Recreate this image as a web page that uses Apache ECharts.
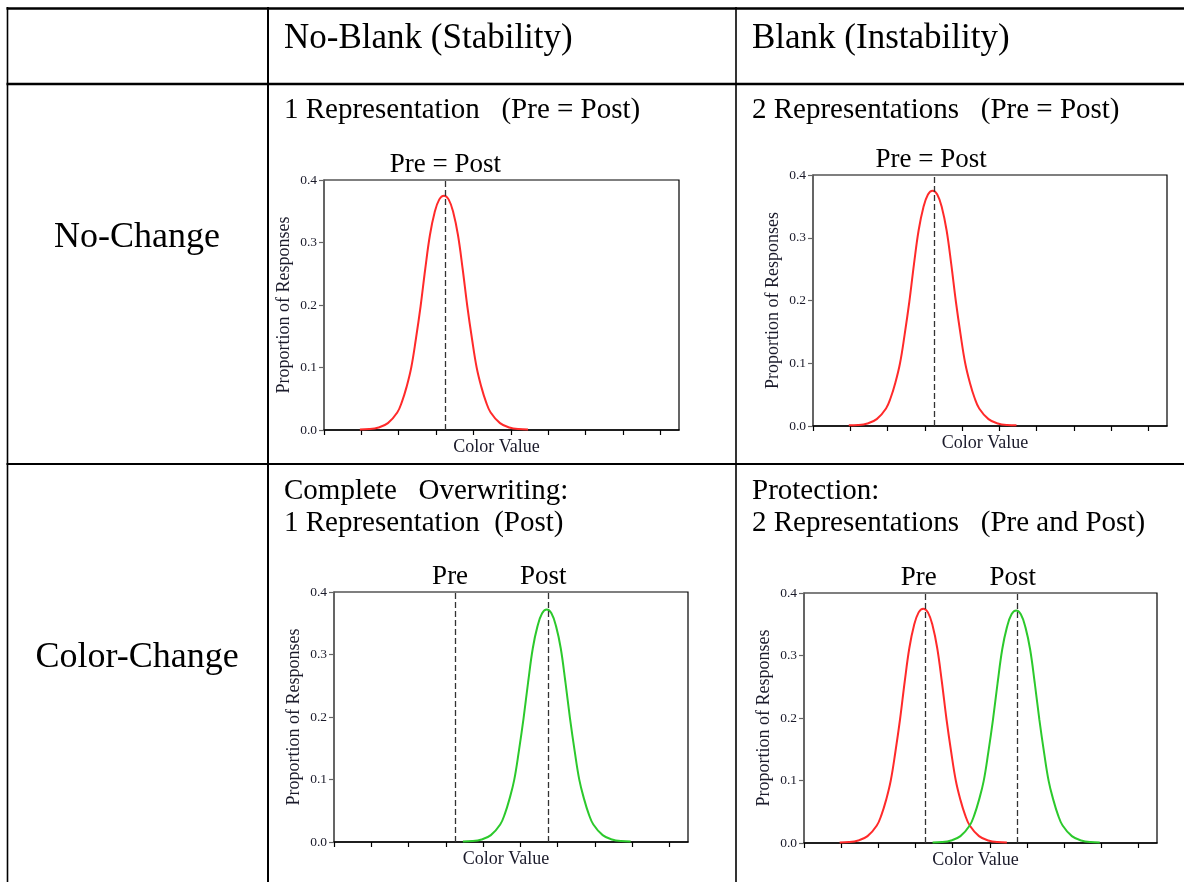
<!DOCTYPE html>
<html>
<head>
<meta charset="utf-8">
<script src="https://cdn.jsdelivr.net/npm/echarts@6/dist/echarts.min.js"></script>
<style>
  html, body { margin: 0; padding: 0; background: #fff; }
  #chart { width: 1184px; height: 882px; }
</style>
</head>
<body>
<div id="chart"></div>
<script>
// ---- data ----
const xTickValues = [0, 1, 2, 3, 4, 5, 6, 7, 8, 9];
const yTickLabels = ['0.0', '0.1', '0.2', '0.3', '0.4'];

const redColorValue = [0.96, 1.21, 1.46, 1.71, 1.96, 2.085, 2.21, 2.335, 2.46, 2.585, 2.71, 2.835, 2.96, 3.085, 3.21,
  3.335, 3.46, 3.585, 3.71, 3.835, 3.96, 4.085, 4.21, 4.335, 4.46, 4.71, 4.96, 5.21, 5.46];
const redProportion = [0.001, 0.0015, 0.004, 0.011, 0.028, 0.045, 0.069, 0.1, 0.146, 0.198, 0.258, 0.312, 0.348, 0.369, 0.375,
  0.369, 0.348, 0.312, 0.258, 0.198, 0.146, 0.1, 0.069, 0.045, 0.028, 0.011, 0.004, 0.0015, 0.001];

const greenColorValue = [3.46, 3.71, 3.96, 4.21, 4.46, 4.585, 4.71, 4.835, 4.96, 5.085, 5.21, 5.335, 5.46, 5.585, 5.71,
  5.835, 5.96, 6.085, 6.21, 6.335, 6.46, 6.585, 6.71, 6.835, 6.96, 7.21, 7.46, 7.71, 7.96];
const greenProportion = [0.001, 0.0015, 0.004, 0.011, 0.028, 0.045, 0.069, 0.099, 0.145, 0.197, 0.256, 0.31, 0.345, 0.366, 0.372,
  0.366, 0.345, 0.31, 0.256, 0.197, 0.145, 0.099, 0.069, 0.045, 0.028, 0.011, 0.004, 0.0015, 0.001];

const preValue = 3.25;
const postValue = 5.75;

const columnHeaders = ['No-Blank (Stability)', 'Blank (Instability)'];
const rowHeaders = ['No-Change', 'Color-Change'];
const cellTitles = [
  ['1 Representation   (Pre = Post)'],
  ['2 Representations   (Pre = Post)'],
  ['Complete   Overwriting:', '1 Representation  (Post)'],
  ['Protection:', '2 Representations   (Pre and Post)']
];
const markLabels = { same: 'Pre = Post', pre: 'Pre', post: 'Post' };

// ---- build ----
const SERIF = '"Liberation Serif", "DejaVu Serif", serif';
const grids = [
  { left: 324, top: 180, width: 355, height: 250 },
  { left: 813, top: 175, width: 354, height: 251 },
  { left: 334, top: 592, width: 354, height: 250 },
  { left: 804, top: 593, width: 353, height: 250 }
];

function pairs(xs, ys) { return xs.map((x, i) => [x, ys[i]]); }

const xAxes = grids.map((g, i) => ({
  type: 'value', gridIndex: i, min: 0, max: 9.5,
  axisLine: { show: true, onZero: false, lineStyle: { color: '#000', width: 1.5 } },
  axisTick: { show: true, inside: false, length: 5, customValues: xTickValues, lineStyle: { color: '#000', width: 1.2 } },
  axisLabel: { show: false },
  splitLine: { show: false },
  name: 'Color Value', nameLocation: 'middle', nameGap: 8,
  nameTextStyle: { fontFamily: SERIF, fontSize: 18, color: '#1a1a2a', padding: [0, 10, 0, 0] }
}));

const yAxes = grids.map((g, i) => ({
  type: 'value', gridIndex: i, min: 0, max: 0.4, interval: 0.1,
  axisLine: { show: true, lineStyle: { color: '#666', width: 1.5 } },
  axisTick: { show: true, inside: false, length: 5, lineStyle: { color: '#666', width: 1.2 } },
  axisLabel: {
    fontFamily: SERIF, fontSize: 13.5, color: '#1a1a2a', margin: 7,
    formatter: (v) => yTickLabels[Math.round(v * 10)]
  },
  splitLine: { show: false },
  name: 'Proportion of Responses', nameLocation: 'middle', nameGap: 31, nameRotate: 90,
  nameTextStyle: { fontFamily: SERIF, fontSize: 18, color: '#1a1a2a' }
}));

function mark(value, text, dx) {
  return {
    xAxis: value,
    label: {
      show: true, position: 'end', formatter: text, distance: 2, offset: [dx, 0],
      fontFamily: SERIF, fontSize: 27, color: '#000'
    }
  };
}
function markLine(items) {
  return {
    silent: true, symbol: ['none', 'none'], animation: false,
    lineStyle: { color: '#333', width: 1.3, type: [6, 3] },
    data: items
  };
}

const RED = '#ff2a2a', GREEN = '#2cc92c';
function curve(i, xs, ys, color, ml) {
  return {
    type: 'line', xAxisIndex: i, yAxisIndex: i, data: pairs(xs, ys),
    smooth: 0.4, showSymbol: false, symbol: 'none',
    lineStyle: { color: color, width: 2 }, itemStyle: { color: color },
    markLine: ml, z: 3
  };
}

const series = [
  curve(0, redColorValue, redProportion, RED, markLine([mark(preValue, markLabels.same, 0)])),
  curve(1, redColorValue, redProportion, RED, markLine([mark(preValue, markLabels.same, -3)])),
  curve(2, greenColorValue, greenProportion, GREEN, markLine([mark(preValue, markLabels.pre, -5), mark(postValue, markLabels.post, -5)])),
  curve(3, redColorValue, redProportion, RED, markLine([mark(preValue, markLabels.pre, -6)])),
  curve(3, greenColorValue, greenProportion, GREEN, markLine([mark(postValue, markLabels.post, -5)]))
];

// table graphics
function hline(y, x1, x2, w) { return { type: 'line', shape: { x1: x1, y1: y, x2: x2, y2: y }, style: { stroke: '#000', lineWidth: w }, silent: true }; }
function vline(x, y1, y2, w) { return { type: 'line', shape: { x1: x, y1: y1, x2: x, y2: y2 }, style: { stroke: '#000', lineWidth: w }, silent: true }; }
function txt(s, x, y, size, align) {
  return { type: 'text', x: x, y: y, silent: true,
    style: { text: s, font: size + 'px ' + SERIF, fill: '#000', textAlign: align || 'left', textVerticalAlign: 'middle' } };
}

const graphic = [
  hline(8.5, 6.5, 1184, 2.5),
  hline(84, 6.5, 1184, 2.5),
  hline(464, 6.5, 1184, 2.2),
  vline(7.5, 7, 882, 1.6),
  vline(268, 7, 882, 2),
  vline(736, 7, 882, 1.6),
  txt(columnHeaders[0], 284, 39, 35),
  txt(columnHeaders[1], 752, 39, 35),
  txt(rowHeaders[0], 137, 238, 36, 'center'),
  txt(rowHeaders[1], 137, 658, 36, 'center'),
  txt(cellTitles[0][0], 284, 110, 29),
  txt(cellTitles[1][0], 752, 110, 29),
  txt(cellTitles[2][0], 284, 491, 29),
  txt(cellTitles[2][1], 284, 523, 29),
  txt(cellTitles[3][0], 752, 491, 29),
  txt(cellTitles[3][1], 752, 523, 29)
];

const chart = echarts.init(document.getElementById('chart'), null, { renderer: 'canvas' });
chart.setOption({
  animation: false,
  backgroundColor: '#fff',
  grid: grids.map(g => Object.assign({ show: true, borderColor: '#000', borderWidth: 1.2, backgroundColor: 'transparent', containLabel: false }, g)),
  xAxis: xAxes,
  yAxis: yAxes,
  series: series,
  graphic: graphic
});
</script>
</body>
</html>
